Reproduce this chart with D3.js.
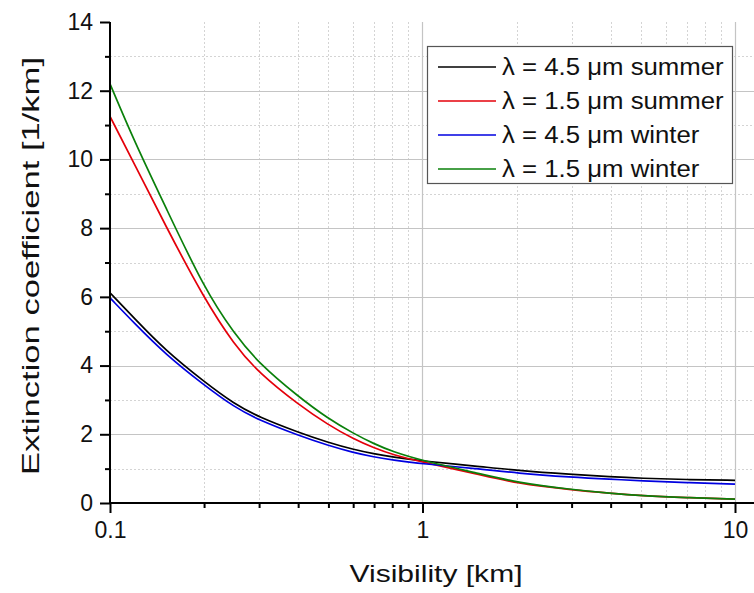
<!DOCTYPE html>
<html>
<head>
<meta charset="utf-8">
<script src="https://cdn.jsdelivr.net/npm/d3@7"></script>
<style>
  html, body { margin: 0; padding: 0; background: #fff; }
  svg { display: block; font-family: "Liberation Sans", Arial, sans-serif; }
</style>
</head>
<body>
<svg id="chart" width="754" height="593"></svg>
<script>
// ---- data ----
const visibility = [0.1, 0.12, 0.15, 0.2, 0.25, 0.3, 0.4, 0.5, 0.6, 0.7, 0.8, 1, 1.5, 2, 3, 4, 5, 7, 10];
const summer45 = [6.12, 5.36, 4.45, 3.53, 2.88, 2.5, 2.06, 1.76, 1.56, 1.43, 1.34, 1.22, 1.07, 0.95, 0.83, 0.76, 0.72, 0.68, 0.66];
const summer15 = [11.25, 9.85, 8.1, 5.95, 4.6, 3.78, 2.87, 2.27, 1.87, 1.6, 1.41, 1.19, 0.84, 0.57, 0.38, 0.28, 0.21, 0.155, 0.11];
const winter45 = [5.97, 5.22, 4.34, 3.43, 2.79, 2.41, 1.97, 1.67, 1.47, 1.34, 1.25, 1.14, 1.0, 0.87, 0.75, 0.69, 0.65, 0.59, 0.55];
const winter15 = [12.2, 10.5, 8.65, 6.25, 4.92, 4.06, 3.1, 2.45, 2.03, 1.72, 1.5, 1.23, 0.87, 0.6, 0.39, 0.28, 0.21, 0.155, 0.115];
const seriesNames = ["λ = 4.5 μm summer", "λ = 1.5 μm summer", "λ = 4.5 μm winter", "λ = 1.5 μm winter"];
const seriesColors = ["#000000", "#e4000a", "#0000e0", "#0a800a"];
const xTickLabels = [0.1, 1, 10];
const yTickLabels = [0, 2, 4, 6, 8, 10, 12, 14];
const xTitle = "Visibility [km]";
const yTitle = "Extinction coefficient [1/km]";

const seriesValues = [summer45, summer15, winter45, winter15];

// ---- layout ----
const pLeft = 110, pRight = 754, pTop = 22, pBottom = 503;
const svg = d3.select("#chart");

const x = d3.scaleLog().domain([0.1, 10]).range([pLeft, 735]);
const y = d3.scaleLinear().domain([0, 14]).range([pBottom, pTop]);

function stretch(sel, f) {
  sel.each(function () {
    const w = this.getComputedTextLength();
    d3.select(this).attr("textLength", w * f).attr("lengthAdjust", "spacingAndGlyphs");
  });
}

// minor values
const xMinor = [];
[0.1, 1, 10].forEach(d => { for (let k = 2; k <= 9; k++) { const v = d * k; if (x(v) <= pRight) xMinor.push(v); } });
const yMinor = d3.range(1, 14, 2);

// ---- grid ----
const grid = svg.append("g");
grid.selectAll("line.hmin").data(yMinor).join("line")
  .attr("x1", pLeft).attr("x2", pRight)
  .attr("y1", d => Math.round(y(d)) + 0.5).attr("y2", d => Math.round(y(d)) + 0.5)
  .attr("stroke", "#d4d4d4").attr("stroke-width", 1).attr("stroke-dasharray", "2,2");
grid.selectAll("line.vmin").data(xMinor).join("line")
  .attr("x1", d => Math.round(x(d)) + 0.5).attr("x2", d => Math.round(x(d)) + 0.5)
  .attr("y1", pTop).attr("y2", pBottom)
  .attr("stroke", "#d4d4d4").attr("stroke-width", 1).attr("stroke-dasharray", "2,2");
grid.selectAll("line.hmaj").data(yTickLabels.filter(d => d > 0 && d < 14)).join("line")
  .attr("x1", pLeft).attr("x2", pRight)
  .attr("y1", d => Math.round(y(d)) + 0.5).attr("y2", d => Math.round(y(d)) + 0.5)
  .attr("stroke", "#c4c4c4").attr("stroke-width", 1.2);
grid.selectAll("line.vmaj").data(xTickLabels.filter(d => d > 0.1)).join("line")
  .attr("x1", d => Math.round(x(d)) + 0.5).attr("x2", d => Math.round(x(d)) + 0.5)
  .attr("y1", pTop).attr("y2", pBottom)
  .attr("stroke", "#c4c4c4").attr("stroke-width", 1.2);

// ---- data lines ----
const line = d3.line()
  .x(d => x(d[0]))
  .y(d => y(d[1]))
  .curve(d3.curveBasis);

svg.append("g").selectAll("path").data(seriesValues).join("path")
  .attr("d", vals => line(visibility.map((v, i) => [v, vals[i]])))
  .attr("fill", "none")
  .attr("stroke", (d, i) => seriesColors[i])
  .attr("stroke-width", 1.7);

// ---- axes ----
const xAxisMajor = d3.axisBottom(x).tickValues(xTickLabels).tickSize(10).tickPadding(8)
  .tickFormat(d => String(d));
const gx = svg.append("g").attr("transform", `translate(0,${pBottom})`).call(xAxisMajor);
gx.select(".domain").remove();
const xAxisMinor = d3.axisBottom(x).tickValues(xMinor).tickSize(5).tickFormat("");
const gxm = svg.append("g").attr("transform", `translate(0,${pBottom})`).call(xAxisMinor);
gxm.select(".domain").remove();
svg.append("line").attr("x1", pLeft - 1).attr("x2", pRight).attr("y1", pBottom).attr("y2", pBottom)
  .attr("stroke", "#000").attr("stroke-width", 2);

const yAxisMajor = d3.axisLeft(y).tickValues(yTickLabels).tickSize(10).tickPadding(7)
  .tickFormat(d => String(d));
const gy = svg.append("g").attr("transform", `translate(${pLeft},0)`).call(yAxisMajor);
gy.select(".domain").remove();
const yAxisMinor = d3.axisLeft(y).tickValues(yMinor).tickSize(5).tickFormat("");
const gym = svg.append("g").attr("transform", `translate(${pLeft},0)`).call(yAxisMinor);
gym.select(".domain").remove();
svg.append("line").attr("x1", pLeft).attr("x2", pLeft).attr("y1", pTop).attr("y2", pBottom + 1)
  .attr("stroke", "#000").attr("stroke-width", 2);

[gx, gxm, gy, gym].forEach(g => {
  g.selectAll(".tick line").attr("stroke", "#000").attr("stroke-width", 2);
  g.selectAll(".tick text").attr("fill", "#111").style("font-size", "23px")
    .style("font-family", "'Liberation Sans', Arial, sans-serif");
});
gx.selectAll(".tick text").attr("dy", "0.74em");

// ---- titles ----
svg.append("text").attr("x", 436).attr("y", 582).attr("text-anchor", "middle")
  .style("font-size", "24px").attr("fill", "#111")
  .attr("textLength", 173).attr("lengthAdjust", "spacingAndGlyphs").text(xTitle);
svg.append("text").attr("transform", `translate(39,266) rotate(-90)`).attr("text-anchor", "middle")
  .style("font-size", "24px").attr("fill", "#111")
  .attr("textLength", 418).attr("lengthAdjust", "spacingAndGlyphs").text(yTitle);

// ---- legend ----
const lg = svg.append("g");
lg.append("rect").attr("x", 427.5).attr("y", 46.5).attr("width", 305).attr("height", 137)
  .attr("fill", "#fff").attr("stroke", "#555").attr("stroke-width", 1.2);
const rows = lg.selectAll("g.row").data(seriesNames).join("g")
  .attr("transform", (d, i) => `translate(0,${67 + i * 34})`);
rows.append("line").attr("x1", 438).attr("x2", 496).attr("y1", 0).attr("y2", 0)
  .attr("stroke", (d, i) => seriesColors[i]).attr("stroke-width", 1.7);
const lt = rows.append("text").attr("x", 502).attr("y", 0).attr("dy", "0.36em")
  .style("font-size", "23px").attr("fill", "#111").text(d => d);
stretch(lt, 1.12);
</script>
</body>
</html>
